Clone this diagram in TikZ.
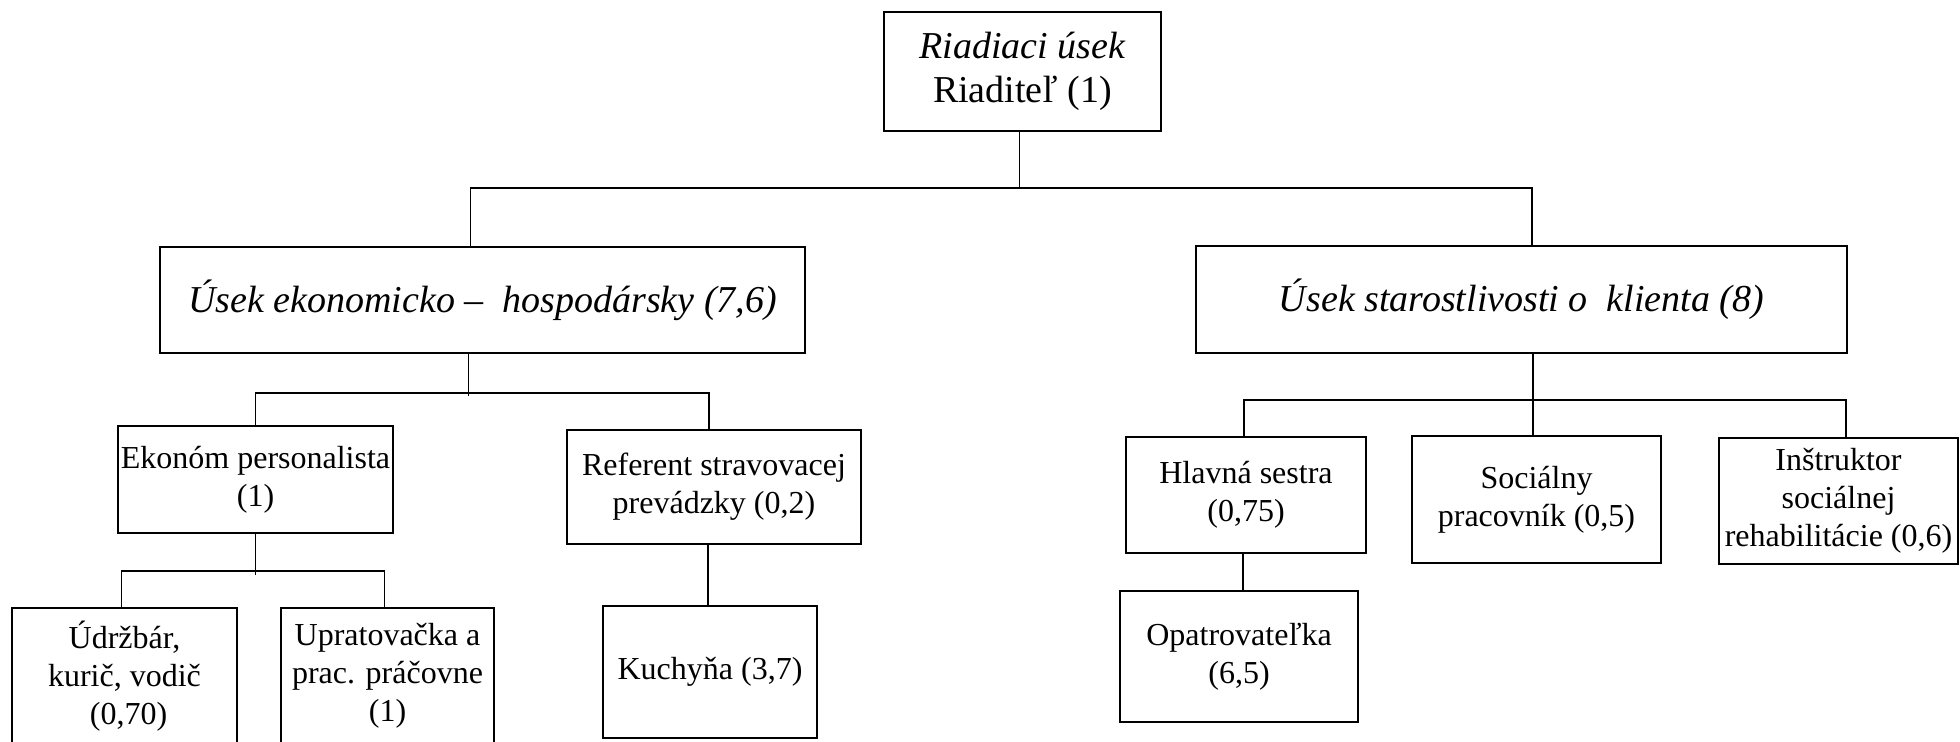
\documentclass[tikz,border=0pt]{standalone}
\usepackage{fontspec}
\setmainfont{Liberation Serif}

\begin{document}
\begin{tikzpicture}[x=0.5pt, y=-0.5pt, thick,
    usek/.style={draw, line width=1pt, align=center, inner sep=1pt, font=\fontsize{19}{22}\selectfont},
    prac/.style={draw, line width=1pt, align=center, inner sep=1pt, font=\fontsize{16}{19}\selectfont}]

    \clip (0,0) rectangle (1960,741);

    \node[usek, minimum width=138.5pt, minimum height=59.5pt]  (riad)  at (1022.5,71.5)  {\textit{Riadiaci úsek}\\Riaditeľ (1)};
    \node[usek, minimum width=322.5pt, minimum height=53pt]    (eko)   at (482.5,300)    {\textit{Úsek ekonomicko –\ \ hospodársky (7,6)}};
    \node[usek, minimum width=325.5pt, minimum height=53.5pt]  (kli)   at (1521.5,299.5) {\textit{Úsek starostlivosti o\ \ klienta (8)}};

    \node[prac, minimum width=137.5pt, minimum height=53.5pt]  (ekon)  at (255.5,479.5)  {Ekonóm personalista\\(1)};
    \node[prac, minimum width=147pt,   minimum height=57pt]    (ref)   at (714,487)      {Referent stravovacej\\prevádzky (0,2)};
    \node[prac, minimum width=112.5pt, minimum height=68pt]    (udr)   at (124.5,676)    {Údržbár,\\kurič, vodič\\\ (0,70)};
    \node[prac, minimum width=106.5pt, minimum height=68pt]    (upr)   at (387.5,676)    {Upratovačka a\\prac. práčovne\\(1)};
    \node[prac, minimum width=107pt,   minimum height=66pt]    (kuch)  at (710,672)      {Kuchyňa (3,7)};

    \node[prac, minimum width=120pt,   minimum height=58pt]    (hlav)  at (1246,495)     {Hlavná sestra\\(0,75)};
    \node[prac, minimum width=124.5pt, minimum height=63.5pt]  (soc)   at (1536.5,499.5) {Sociálny\\pracovník (0,5)};
    \node[prac, minimum width=119.5pt, minimum height=63pt]    (ins)   at (1838.5,501)   {Inštruktor\\sociálnej\\rehabilitácie (0,6)};
    \node[prac, minimum width=119pt,   minimum height=65.5pt]  (opat)  at (1239,656.5)  {Opatrovateľka\\(6,5)};

    % levels of the branching lines
    \coordinate (b0) at (1019,188);
    \coordinate (b1) at (469,393);
    \coordinate (b2) at (257,571);
    \coordinate (b3) at (1533,400);

    \draw ([xshift=-1.5pt]riad.south) -- ([xshift=-1.5pt]riad.south |- b0);
    \draw ([xshift=-6pt]eko.north) |- (b0) -| ([xshift=5.25pt]kli.north);

    \draw ([xshift=-7pt]eko.south) -- ([xshift=-7pt,yshift=-1.5pt]eko.south |- b1);
    \draw (ekon.north) |- (b1) -| ([xshift=-2.5pt]ref.north);
    \draw (ekon.south) -- ([yshift=-2pt]ekon.south |- b2);
    \draw ([xshift=-1.5pt]udr.north) |- (b2) -| ([xshift=-1.5pt]upr.north);
    \draw ([xshift=-1pt]kuch.north) -- ([xshift=-1pt]kuch.north |- ref.south);

    \draw ([xshift=-1.75pt]soc.north) -- ([xshift=-1.75pt]soc.north |- kli.south);
    \draw ([xshift=-1pt]hlav.north) |- (b3) -| ([xshift=3.75pt]ins.north);
    \draw ([xshift=2pt]opat.north) -- ([xshift=2pt]opat.north |- hlav.south);

\end{tikzpicture}
\end{document}
